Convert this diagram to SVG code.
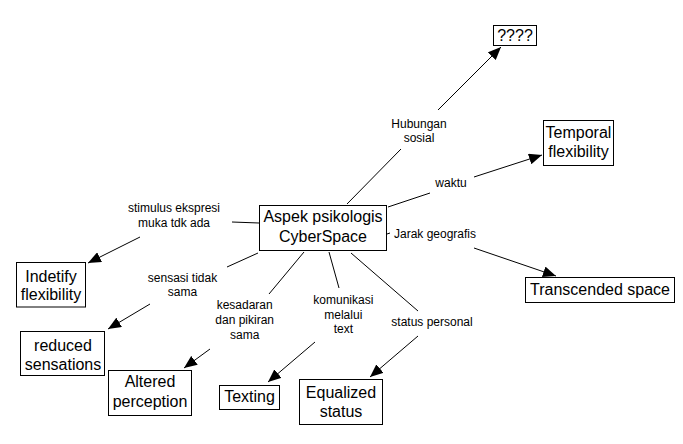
<svg xmlns="http://www.w3.org/2000/svg" width="683" height="444" viewBox="0 0 683 444">
<style>
.node rect{fill:#fff;stroke:#000;stroke-width:1}
.node text{font-family:"Liberation Sans",Arial,sans-serif;font-size:16px;text-anchor:middle;fill:#000}
.lbl{font-family:"Liberation Sans",Arial,sans-serif;font-size:12px;text-anchor:middle;fill:#000}
.c line{stroke:#000;stroke-width:1}
.c line.a{marker-end:url(#ah)}
</style>
<defs>
<marker id="ah" markerUnits="userSpaceOnUse" markerWidth="13" markerHeight="11" refX="13" refY="5.5" orient="auto">
<path d="M0,0 L13,5.5 L0,11 z" fill="#000"/>
</marker>
</defs>
<rect width="683" height="444" fill="#fff"/>
<g id="connectors" class="c">
<line x1="347" y1="204" x2="401" y2="149"/>
<line class="a" x1="438" y1="110" x2="501" y2="47"/>
<line x1="388" y1="207" x2="430" y2="193"/>
<line class="a" x1="474" y1="177" x2="542" y2="155"/>
<line x1="387" y1="234" x2="390" y2="233"/>
<line class="a" x1="474" y1="248" x2="556" y2="276"/>
<line x1="232" y1="222" x2="259" y2="223"/>
<line class="a" x1="140" y1="237" x2="88" y2="263"/>
<line x1="258" y1="253" x2="227" y2="267"/>
<line class="a" x1="150" y1="304" x2="108" y2="329"/>
<line x1="304" y1="252" x2="269" y2="294"/>
<line class="a" x1="210" y1="349" x2="184" y2="368"/>
<line x1="329" y1="252" x2="339" y2="288"/>
<line class="a" x1="315" y1="342" x2="268" y2="382"/>
<line x1="351" y1="253" x2="418" y2="311"/>
<line class="a" x1="418" y1="336" x2="370" y2="377"/>
</g>
<g id="labels">
<text class="lbl" x="419" y="127.5">Hubungan</text>
<text class="lbl" x="419" y="141.7">sosial</text>
<text class="lbl" x="451" y="187">waktu</text>
<text class="lbl" x="435" y="238.3">Jarak geografis</text>
<text class="lbl" x="174" y="211.7">stimulus ekspresi</text>
<text class="lbl" x="174" y="226.7">muka tdk ada</text>
<text class="lbl" x="182.5" y="281.7">sensasi tidak</text>
<text class="lbl" x="182.5" y="295.5">sama</text>
<text class="lbl" x="244.7" y="309.3">kesadaran</text>
<text class="lbl" x="244.7" y="324.3">dan pikiran</text>
<text class="lbl" x="244.7" y="339.3">sama</text>
<text class="lbl" x="343.3" y="304">komunikasi</text>
<text class="lbl" x="343.3" y="318.5">melalui</text>
<text class="lbl" x="343.3" y="332.7">text</text>
<text class="lbl" x="432" y="325.7">status personal</text>
</g>
<g id="center" class="node">
<rect x="259.5" y="205.5" width="127" height="45"/>
<text x="323" y="222.3">Aspek psikologis</text>
<text x="323" y="242.3">CyberSpace</text>
</g>
<g id="n-unknown" class="node">
<rect x="493.5" y="25.5" width="43" height="20"/>
<text x="515" y="40.5">????</text>
</g>
<g id="n-temporal" class="node">
<rect x="543.5" y="120.5" width="70" height="45"/>
<text x="578.5" y="138.3">Temporal</text>
<text x="578.5" y="157">flexibility</text>
</g>
<g id="n-transcended" class="node">
<rect x="525.5" y="277.5" width="149" height="25"/>
<text x="600" y="295">Transcended space</text>
</g>
<g id="n-indetify" class="node">
<rect x="16.5" y="262.5" width="69" height="44.5"/>
<text x="51" y="281.5">Indetify</text>
<text x="51" y="300">flexibility</text>
</g>
<g id="n-reduced" class="node">
<rect x="20.5" y="331.5" width="84" height="44"/>
<text x="63" y="350.7">reduced</text>
<text x="63" y="370">sensations</text>
</g>
<g id="n-altered" class="node">
<rect x="108.5" y="370.5" width="83" height="45"/>
<text x="150" y="387.3">Altered</text>
<text x="150" y="407.3">perception</text>
</g>
<g id="n-texting" class="node">
<rect x="219.5" y="385.5" width="60" height="24"/>
<text x="249.5" y="402.3">Texting</text>
</g>
<g id="n-equalized" class="node">
<rect x="299.5" y="379.5" width="83" height="45"/>
<text x="341" y="398.3">Equalized</text>
<text x="341" y="417.3">status</text>
</g>
</svg>
